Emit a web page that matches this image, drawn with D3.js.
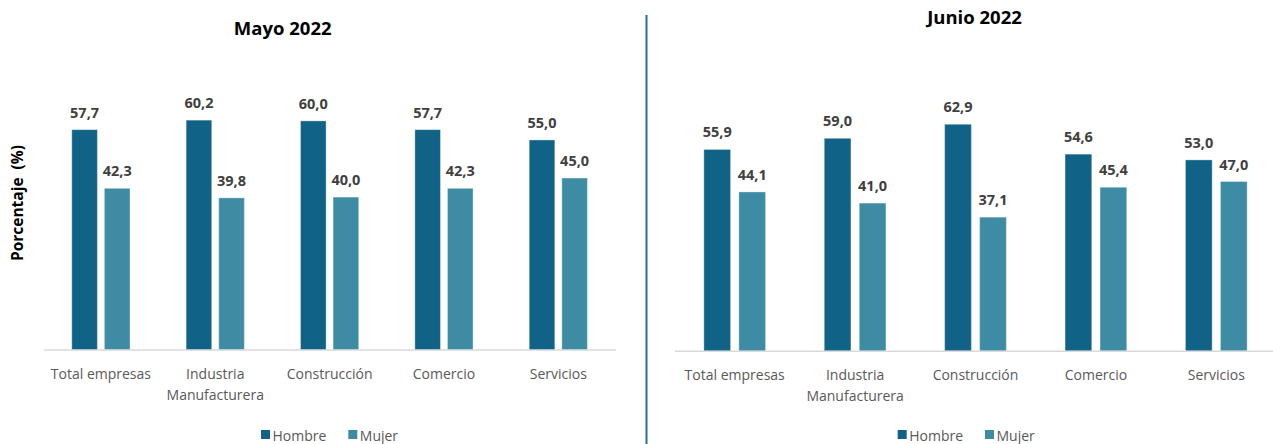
<!DOCTYPE html>
<html>
<head>
<meta charset="utf-8">
<script src="https://cdn.jsdelivr.net/npm/d3@7"></script>
<style>
  html, body { margin: 0; padding: 0; background: #fff; }
  svg { display: block; font-family: "Open Sans", "Noto Sans", sans-serif; }
</style>
</head>
<body>
<svg id="chart" width="1273" height="444"></svg>
<script>
// ---- Data ----
const categories = ["Total empresas", "Industria Manufacturera", "Construcción", "Comercio", "Servicios"];
const categoryLines = [["Total empresas"], ["Industria", "Manufacturera"], ["Construcción"], ["Comercio"], ["Servicios"]];
const series = ["Hombre", "Mujer"];
const mayoHombre = [57.7, 60.2, 60.0, 57.7, 55.0];
const mayoMujer  = [42.3, 39.8, 40.0, 42.3, 45.0];
const junioHombre = [55.9, 59.0, 62.9, 54.6, 53.0];
const junioMujer  = [44.1, 41.0, 37.1, 45.4, 47.0];
const titles = ["Mayo 2022", "Junio 2022"];
const yAxisLabel = "Porcentaje\u00a0\u00a0(%)";

const colors = { Hombre: "#106287", Mujer: "#3d8ca4" };
const svg = d3.select("#chart");

const panels = [
  { title: titles[0], values: { Hombre: mayoHombre, Mujer: mayoMujer },
    x0: 43.7, x1: 615.5, base: 349.5, pxPerUnit: 3.81, groupW: 58.2, pad: 0.215,
    titleX: 282.7, titleY: 34.5, legendX: 261 },
  { title: titles[1], values: { Hombre: junioHombre, Mujer: junioMujer },
    x0: 674.5, x1: 1276.5, base: 350.7, pxPerUnit: 3.60, groupW: 61.7, pad: 0.237,
    titleX: 974.5, titleY: 23.5, legendX: 897.7 }
];

panels.forEach(p => {
  const g = svg.append("g");
  const x = d3.scaleBand().domain(categories).range([p.x0, p.x1]).paddingInner(0).paddingOuter(0);
  const bw = x.bandwidth();
  const xs = d3.scaleBand().domain(series)
    .range([bw / 2 - p.groupW / 2, bw / 2 + p.groupW / 2])
    .paddingInner(p.pad).paddingOuter(0);
  const yMax = 70;
  const y = d3.scaleLinear().domain([0, yMax]).range([p.base, p.base - yMax * p.pxPerUnit]);

  // axis
  const axis = d3.axisBottom(x).tickSize(0).tickPadding(0);
  const ag = g.append("g").attr("transform", `translate(0,${p.base})`).call(axis);
  ag.select(".domain").attr("stroke", "#d9d9d9").attr("stroke-width", 1.5);
  ag.selectAll(".tick text").each(function(d, i) {
    const t = d3.select(this);
    t.text(null).attr("y", 0).attr("dy", null)
      .attr("fill", "#595959").style("font-size", "14px").style("font-family", '"Open Sans", sans-serif');
    categoryLines[categories.indexOf(d)].forEach((line, j) => {
      t.append("tspan").attr("x", 0).attr("y", 29 + j * 21).text(line);
    });
  });

  // bars
  series.forEach(s => {
    const vals = p.values[s];
    g.selectAll(null).data(categories).join("rect")
      .attr("x", (c) => x(c) + xs(s))
      .attr("width", xs.bandwidth())
      .attr("y", (c, i) => y(vals[i]))
      .attr("height", (c, i) => y(0) - y(vals[i]))
      .attr("fill", colors[s])
      .attr("stroke", "#ffffff").attr("stroke-opacity", 0.35).attr("stroke-width", 1);
    g.selectAll(null).data(categories).join("text")
      .attr("x", (c) => x(c) + xs(s) + xs.bandwidth() / 2)
      .attr("y", (c, i) => y(vals[i]) - 12)
      .attr("text-anchor", "middle")
      .attr("fill", "#404040")
      .style("font-size", "14.5px").style("font-weight", "bold")
      .text((c, i) => d3.format(".1f")(vals[i]).replace(".", ","));
  });

  // title
  g.append("text").attr("x", p.titleX).attr("y", p.titleY).attr("text-anchor", "middle")
    .attr("fill", "#000").style("font-size", "18.5px").style("font-weight", "bold").text(p.title);

  // legend
  const lg = g.append("g").attr("transform", `translate(${p.legendX},430)`);
  const legendOffsets = [0, 87.3];
  series.forEach((s, i) => {
    lg.append("rect").attr("x", legendOffsets[i]).attr("y", 0).attr("width", 9).attr("height", 9).attr("fill", colors[s]);
    lg.append("text").attr("x", legendOffsets[i] + 11.5).attr("y", 10.5)
      .attr("fill", "#595959").style("font-size", "14px").text(s);
  });
});

// y axis label (left panel)
svg.append("text")
  .attr("transform", "translate(23,203) rotate(-90)")
  .attr("text-anchor", "middle")
  .attr("fill", "#000")
  .style("font-size", "15.5px").style("font-weight", "bold")
  .text(yAxisLabel);

// divider
svg.append("line").attr("x1", 646.5).attr("x2", 646.5).attr("y1", 15).attr("y2", 444)
  .attr("stroke", "#2a6f96").attr("stroke-width", 2);
</script>
</body>
</html>
